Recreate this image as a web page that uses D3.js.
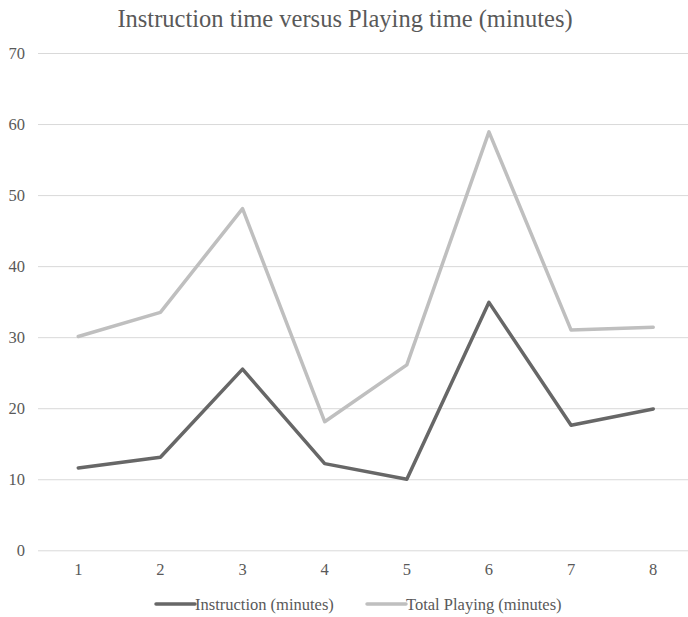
<!DOCTYPE html>
<html><head><meta charset="utf-8">
<script src="https://cdn.jsdelivr.net/npm/d3@7/dist/d3.min.js"></script>
<style>body{margin:0;background:#fff;} svg{display:block;}</style>
</head><body>
<script>
const categories = ["1","2","3","4","5","6","7","8"];
const instruction = [11.6, 13.1, 25.5, 12.2, 10.0, 34.9, 17.6, 19.9];
const totalPlaying = [30.1, 33.5, 48.1, 18.1, 26.1, 58.9, 31.0, 31.4];
const yTicks = [0,10,20,30,40,50,60,70];
const seriesNames = ["Instruction (minutes)", "Total Playing (minutes)"];
const seriesColors = ["#676767", "#bfbfbf"];

const W = 688, H = 617;
const svg = d3.select("body").append("svg").attr("width", W).attr("height", H);
const font = "'Liberation Serif', 'Times New Roman', serif";

const x = d3.scaleBand().domain(categories).range([37.2, 694.3]);
const y = d3.scaleLinear().domain([0,70]).range([550.3, 53]);

svg.append("text").attr("x", 345).attr("y", 27).attr("text-anchor","middle")
  .attr("font-family", font).attr("font-size", 24.5).attr("fill","#595959")
  .text("Instruction time versus Playing time (minutes)");

const yAxis = d3.axisLeft(y).tickValues(yTicks).tickSize(-(688-38)).tickPadding(13);
const gy = svg.append("g").attr("transform","translate(38,0)").call(yAxis);
gy.select(".domain").remove();
gy.selectAll(".tick line").attr("stroke","#d9d9d9").attr("stroke-width",1);
gy.selectAll(".tick text").attr("font-family",font).attr("font-size",16.5).attr("fill","#595959");

const xAxis = d3.axisBottom(x).tickSize(0).tickPadding(13);
const gx = svg.append("g").attr("transform","translate(0,550.3)").call(xAxis);
gx.select(".domain").remove();
gx.selectAll(".tick text").attr("font-family",font).attr("font-size",16.5).attr("fill","#595959");

const line = d3.line().x((d,i)=>x(categories[i])+x.bandwidth()/2).y(d=>y(d));
[instruction, totalPlaying].forEach((s,k)=>{
  svg.append("path").datum(s).attr("d", line).attr("fill","none")
    .attr("stroke", seriesColors[k]).attr("stroke-width",3.5)
    .attr("stroke-linejoin","round").attr("stroke-linecap","round");
});

const legendX = [156, 367];
seriesNames.forEach((n,k)=>{
  const g = svg.append("g").attr("transform",`translate(${legendX[k]},604)`);
  g.append("line").attr("x1",0).attr("x2",39).attr("y1",0).attr("y2",0)
    .attr("stroke",seriesColors[k]).attr("stroke-width",3.5).attr("stroke-linecap","round");
  g.append("text").attr("x",39).attr("y",5.5).attr("font-family",font).attr("font-size",16.5)
    .attr("fill","#595959").text(n);
});
</script>
</body></html>
